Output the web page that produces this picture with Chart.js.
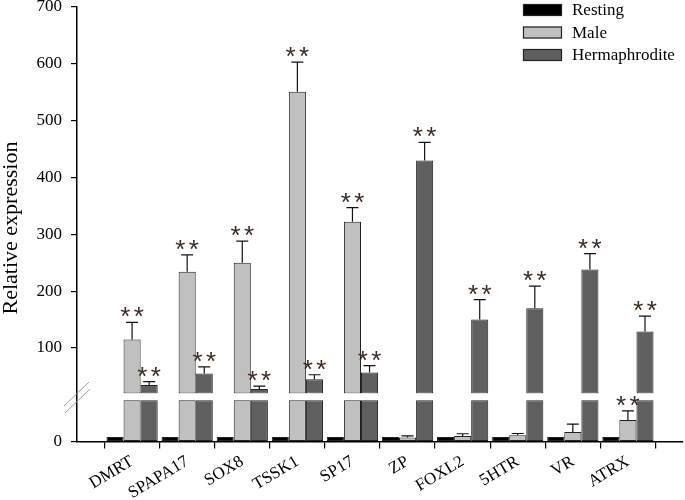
<!DOCTYPE html>
<html><head><meta charset="utf-8">
<script src="https://cdn.jsdelivr.net/npm/chart.js@4.4.0/dist/chart.umd.min.js"></script>
<style>html,body{margin:0;padding:0;background:#fff}#wrap{width:685px;height:500px;position:relative}</style>
</head><body><div id="wrap"><canvas id="c" width="685" height="500"></canvas></div>
<script>
// ---- data ----
const categories = ['DMRT','SPAPA17','SOX8','TSSK1','SP17','ZP','FOXL2','5HTR','VR','ATRX'];
const seriesNames = ['Resting','Male','Hermaphrodite'];
const resting = [1, 1, 1, 1, 1, 1, 1, 1, 1, 1];
const male    = [115, 234, 250, 551, 322, 0.9, 1.2, 1.35, 2.1, 4.7];
const maleErr = [30, 30, 38, 52, 25, 0.35, 0.5, 0.4, 1.7, 2.0];
const herm    = [35, 55, 28, 45, 57, 430, 150, 170, 238, 129];
const hermErr = [6, 12, 5, 8, 12, 32, 35, 39, 28, 27];
const maleSig = ['**','**','**','**','**','','','','','**'];
const hermSig = ['**','**','**','**','**','**','**','**','**','**'];
const upperTicks = [100, 200, 300, 400, 500, 600, 700];
const lowerTicks = [0];
const yTitle = 'Relative expression';
// broken axis settings
const breakValue = 20;   // upper segment starts here
const upperMax = 700;
const lowerMax = 10.5;   // lower segment top
const lowerClamp = 9;    // lower part of tall bars drawn up to here

// ---- styles ----
const colors = ['#000000', '#c0c0c0', '#5f5f5f'];
const stackIds = ['rest', 'male', 'herm'];
const serif = 'Liberation Serif';

const seriesVals = [resting, male, herm];
const datasets = [];
seriesVals.forEach((vals, k) => {
  datasets.push({
    label: seriesNames[k],
    data: vals.map((v, i) => ({x: i + 1, y: Math.min(v, lowerClamp)})),
    yAxisID: 'yLower', stack: stackIds[k],
    backgroundColor: colors[k], borderColor: '#222', borderWidth: 1, borderSkipped: false
  });
});
[1, 2].forEach(k => {
  datasets.push({
    label: seriesNames[k],
    data: seriesVals[k].map((v, i) => ({x: i + 1, y: v > breakValue ? v : null})),
    yAxisID: 'yUpper', stack: stackIds[k], base: breakValue,
    backgroundColor: colors[k], borderColor: '#222', borderWidth: 1, borderSkipped: false
  });
});

const errorPlugin = {
  id: 'errStars',
  afterDatasetsDraw(chart) {
    const ctx = chart.ctx;
    const up = chart.scales.yUpper, lo = chart.scales.yLower;
    [[1, male, maleErr, maleSig], [2, herm, hermErr, hermSig]].forEach(([k, vals, errs, sigs]) => {
      const meta = chart.getDatasetMeta(k);
      vals.forEach((v, i) => {
        const el = meta.data[i];
        const x = el.x;
        const sc = v > breakValue ? up : lo;
        const yTop = sc.getPixelForValue(v);
        const yCap = sc.getPixelForValue(v + errs[i]);
        ctx.save();
        ctx.strokeStyle = '#111'; ctx.lineWidth = 1.2;
        ctx.beginPath();
        ctx.moveTo(x, yTop); ctx.lineTo(x, yCap);
        ctx.moveTo(x - 6, yCap); ctx.lineTo(x + 6, yCap);
        ctx.stroke();
        if (sigs[i]) {
          ctx.fillStyle = '#3a2a22';
          ctx.font = '26px "Liberation Sans"';
          ctx.textAlign = 'center'; ctx.textBaseline = 'alphabetic';
          const chars = sigs[i].split('');
          const step = 13.5;
          chars.forEach((ch, j) => {
            const cx = x + (j - (chars.length - 1) / 2) * step;
            ctx.fillText(ch, cx, yCap - 10 + 13);
          });
        }
        ctx.restore();
      });
    });
  }
};

const decorPlugin = {
  id: 'decor',
  afterDraw(chart) {
    const ctx = chart.ctx;
    const ca = chart.chartArea;
    ctx.save();
    // y axis title
    ctx.translate(11, 228);
    ctx.rotate(-Math.PI / 2);
    ctx.fillStyle = '#000';
    ctx.font = '22px "' + serif + '"';
    ctx.textAlign = 'center'; ctx.textBaseline = 'middle';
    ctx.fillText(yTitle, 0, 0);
    ctx.restore();
    // axis break marks
    ctx.save();
    ctx.strokeStyle = '#a0a0a0'; ctx.lineWidth = 1;
    ctx.beginPath();
    ctx.moveTo(ca.left - 13, 406); ctx.lineTo(ca.left + 12, 382);
    ctx.moveTo(ca.left - 12, 413); ctx.lineTo(ca.left + 13, 389);
    ctx.stroke();
    ctx.restore();
    // legend
    ctx.save();
    const lx = ca.right - 160;
    seriesNames.forEach((name, k) => {
      const y = 10 + k * 22.5;
      ctx.fillStyle = colors[k];
      ctx.fillRect(lx, y - 6, 39, 12);
      ctx.strokeStyle = '#222'; ctx.lineWidth = 1.2;
      ctx.strokeRect(lx + 0.5, y - 5.5, 38, 11);
      ctx.fillStyle = '#000';
      ctx.font = '17px "' + serif + '"';
      ctx.textAlign = 'left'; ctx.textBaseline = 'middle';
      ctx.fillText(name, lx + 49, y + 1);
    });
    ctx.restore();
  }
};

const yCommon = (ticksArr, extra) => Object.assign({
  type: 'linear', position: 'left', stack: 'y', stacked: false, offset: false,
  afterBuildTicks: s => { s.ticks = ticksArr.map(v => ({value: v})); },
  ticks: {padding: 9, color: '#000', font: {family: serif, size: 17}},
  grid: {drawOnChartArea: false, drawTicks: true, tickLength: 6, color: '#000', lineWidth: 1.2},
  border: {display: true, color: '#000', width: 1.5},
  afterFit: s => { s.width = 77; s.paddingTop = 0; s.paddingBottom = 0; }
}, extra);

new Chart(document.getElementById('c'), {
  type: 'bar',
  data: {datasets},
  options: {
    responsive: false, animation: false,
    categoryPercentage: 0.93, barPercentage: 1.0,
    layout: {padding: {top: 7, right: 2, left: 0, bottom: 0}},
    plugins: {legend: {display: false}, tooltip: {enabled: false}},
    scales: {
      x: {
        type: 'linear', min: 0, max: categories.length + 1, offset: false,
        afterBuildTicks: s => { s.ticks = categories.map((c, i) => ({value: i + 1})); },
        ticks: {autoSkip: false, minRotation: 31, maxRotation: 31, padding: 3, color: '#000',
                font: {family: serif, size: 17}, callback: v => categories[v - 1] || ''},
        grid: {drawOnChartArea: false, drawTicks: true, tickLength: 7, color: '#000', lineWidth: 1.2},
        border: {display: true, color: '#000', width: 1.5},
        afterFit: s => { s.height = 58.5; s.paddingLeft = 0; s.paddingRight = 0; }
      },
      yUpper: yCommon(upperTicks, {min: breakValue, max: upperMax, weight: 2, stackWeight: 386.5}),
      yLower: yCommon(lowerTicks, {min: 0, max: lowerMax, weight: 1, stackWeight: 48})
    }
  },
  plugins: [errorPlugin, decorPlugin]
});
</script></body></html>
